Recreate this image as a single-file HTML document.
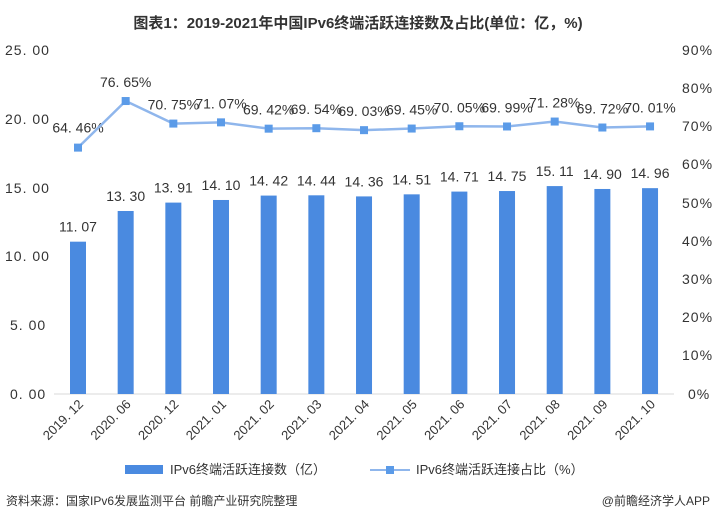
<!DOCTYPE html><html><head><meta charset="utf-8"><style>body{margin:0;background:#fff}svg text{font-family:"Liberation Sans","Noto Sans CJK SC",sans-serif}</style></head><body>
<svg width="716" height="521" xmlns="http://www.w3.org/2000/svg">
<text x="358" y="28" text-anchor="middle" font-size="15" font-weight="bold" fill="#333">图表1：2019-2021年中国IPv6终端活跃连接数及占比(单位：亿，%)</text>
<g font-size="14" fill="#333" font-family="Noto Sans CJK SC" letter-spacing="1">
<text x="5" y="55">25. 00</text><text x="5" y="124">20. 00</text><text x="5" y="193">15. 00</text><text x="5" y="261">10. 00</text><text x="10" y="330">5. 00</text><text x="10" y="399">0. 00</text>
<text x="682" y="55">90%</text><text x="682" y="93">80%</text><text x="682" y="131">70%</text><text x="682" y="169">60%</text><text x="682" y="208">50%</text><text x="682" y="246">40%</text><text x="682" y="284">30%</text><text x="682" y="322">20%</text><text x="682" y="360">10%</text><text x="688" y="399">0%</text>
</g>
<line x1="54" y1="394" x2="674" y2="394" stroke="#d9d9d9"/>
<g id="bars" fill="#4a8ae0"></g>
<g id="lbl" font-size="14" fill="#333" font-family="Noto Sans CJK SC" text-anchor="middle"></g>
<polyline id="ln" fill="none" stroke="#8fb6ec" stroke-width="2.5"/>
<g id="mk" fill="#5b9be8"></g>
<g id="xl" font-size="13" fill="#333" font-family="Noto Sans CJK SC"></g>
<rect x="125" y="465" width="38" height="9" fill="#4a8ae0"/>
<text x="170" y="474" font-size="13" fill="#333">IPv6终端活跃连接数（亿）</text>
<line x1="370" y1="470" x2="410" y2="470" stroke="#8fb6ec" stroke-width="2"/><rect x="386" y="466" width="8" height="8" fill="#5b9be8"/>
<text x="416" y="474" font-size="13" fill="#333">IPv6终端活跃连接占比（%）</text>
<text x="6" y="505" font-size="12" fill="#333">资料来源：国家IPv6发展监测平台 前瞻产业研究院整理</text>
<text x="710" y="505" font-size="12" fill="#333" text-anchor="end">@前瞻经济学人APP</text>
</svg>
<script>
const b=[11.07,13.30,13.91,14.10,14.42,14.44,14.36,14.51,14.71,14.75,15.11,14.90,14.96];
const p=[64.46,76.65,70.75,71.07,69.42,69.54,69.03,69.45,70.05,69.99,71.28,69.72,70.01];
const x=["2019.12","2020.06","2020.12","2021.01","2021.02","2021.03","2021.04","2021.05","2021.06","2021.07","2021.08","2021.09","2021.10"];
let bars="",lbl="",mk="",xl="",pts=[];
b.forEach((v,i)=>{const c=78+i*47.67,y=394-v*13.76;
bars+=`<rect x="${c-8}" y="${y}" width="16" height="${394-y}"/>`;
lbl+=`<text x="${c}" y="${y-10}">${v.toFixed(2).replace('.','. ')}</text>`;
const py=394-p[i]/90*344;pts.push(c+","+py);
mk+=`<rect x="${c-4}" y="${py-4}" width="8" height="8"/>`;
let ly=py-14;if(i==0)ly=py-15;
lbl+=`<text x="${c}" y="${ly}">${p[i].toFixed(2).replace('.','. ')}%</text>`;
xl+=`<text transform="translate(${c+6},${405}) rotate(-45)" text-anchor="end">${x[i].replace('.','. ')}</text>`;});
document.getElementById('bars').innerHTML=bars;document.getElementById('lbl').innerHTML=lbl;
document.getElementById('mk').innerHTML=mk;document.getElementById('xl').innerHTML=xl;
document.getElementById('ln').setAttribute('points',pts.join(' '));
</script>
</body></html>
